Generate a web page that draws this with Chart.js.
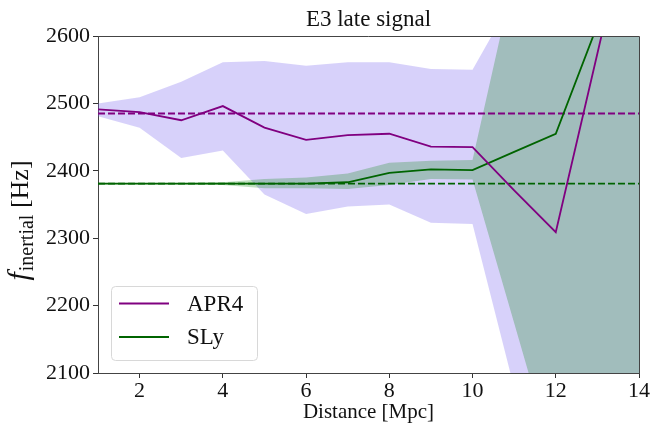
<!DOCTYPE html>
<html>
<head>
<meta charset="utf-8">
<script src="https://cdn.jsdelivr.net/npm/chart.js@4/dist/chart.umd.min.js"></script>
<style>
  html, body { margin: 0; padding: 0; background: #fff; }
  canvas { display: block; }
</style>
</head>
<body>
<canvas id="chart" width="650" height="427"></canvas>
<script>
// === DATA ===
const distance = [1, 2, 3, 4, 5, 6, 7, 8, 9, 10, 11, 12, 13, 14];

const apr4 = [2491, 2487, 2475, 2496, 2464, 2446, 2453, 2455, 2436, 2435, 2371, 2309, 2574, 2840];
const apr4Upper = [2500, 2509, 2532, 2561, 2563, 2556, 2561, 2561, 2551, 2550, 2659, 3000, 3000, 3000];
const apr4Lower = [2481, 2464, 2419, 2430, 2365, 2336, 2347, 2350, 2323, 2321, 2078, 1835, 1600, 1600];
const apr4Ref = 2485;

const sly = [2381, 2381, 2381, 2381, 2381, 2381, 2383, 2397, 2402, 2401, 2428, 2455, 2616, 2780];
const slyUpper = [2382, 2382, 2382, 2383, 2388, 2390, 2396, 2412, 2415, 2416, 2691, 3000, 3000, 3000];
const slyLower = [2380, 2380, 2380, 2379, 2374, 2374, 2373, 2379, 2388, 2387, 2174, 1961, 1600, 1600];
const slyRef = 2381;

const xTicks = [2, 4, 6, 8, 10, 12, 14];
const yTicks = [2100, 2200, 2300, 2400, 2500, 2600];

const seriesNames = ['APR4', 'SLy'];
const titleText = 'E3 late signal';
const xTitle = 'Distance [Mpc]';

// === HELPERS ===
const FONT = "'Liberation Serif', 'DejaVu Serif', serif";
const PURPLE = '#800080';
const GREEN = '#006400';

Chart.defaults.font.family = FONT;

const toPoints = (ys) => distance.map((x, i) => ({ x: x, y: ys[i] }));
const flatLine = (v) => [{ x: distance[0], y: v }, { x: distance[distance.length - 1], y: v }];

const band = (ys, color, fillTo, order) => ({
    data: toPoints(ys),
    borderColor: 'transparent',
    borderWidth: 0,
    backgroundColor: color,
    pointRadius: 0,
    fill: fillTo,
    order: order
});

const line = (pts, color, dash, order) => ({
    data: pts,
    borderColor: color,
    borderWidth: 1.8,
    borderDash: dash,
    pointRadius: 0,
    fill: false,
    tension: 0,
    order: order
});

// Plugin vẽ tiêu đề, nhãn trục, khung và chú thích
const decorations = {
    id: 'decorations',
    afterDraw(chart) {
        const ctx = chart.ctx;
        const a = chart.chartArea;
        ctx.save();

        // right + top spines
        ctx.strokeStyle = '#444';
        ctx.lineWidth = 1;
        ctx.beginPath();
        ctx.moveTo(a.left, a.top + 0.5);
        ctx.lineTo(a.right + 0.5, a.top + 0.5);
        ctx.lineTo(a.right + 0.5, a.bottom);
        ctx.stroke();

        // title
        ctx.fillStyle = '#111';
        ctx.textAlign = 'center';
        ctx.textBaseline = 'alphabetic';
        ctx.font = `23px ${FONT}`;
        ctx.fillText(titleText, (a.left + a.right) / 2, 26);

        // x axis title
        ctx.font = `21px ${FONT}`;
        ctx.fillText(xTitle, (a.left + a.right) / 2, 418);

        // y axis title: f_inertial [Hz]
        ctx.save();
        ctx.translate(28, 221);
        ctx.rotate(-Math.PI / 2);
        ctx.textAlign = 'left';
        const fFont = `italic 30px ${FONT}`;
        const subFont = `20px ${FONT}`;
        const hzFont = `26px ${FONT}`;
        ctx.font = fFont; const wF = ctx.measureText('f').width;
        ctx.font = subFont; const wS = ctx.measureText('inertial').width;
        ctx.font = hzFont; const wH = ctx.measureText(' [Hz]').width;
        let x0 = -(wF + wS + wH) / 2;
        ctx.font = fFont; ctx.fillText('f', x0, 0); x0 += wF + 1;
        ctx.font = subFont; ctx.fillText('inertial', x0, 5); x0 += wS;
        ctx.font = hzFont; ctx.fillText(' [Hz]', x0, 0);
        ctx.restore();

        // legend
        const lx = 111, ly = 286, lw = 146, lh = 74, r = 4;
        ctx.fillStyle = 'rgba(255,255,255,0.85)';
        ctx.strokeStyle = '#d8d8d8';
        ctx.lineWidth = 1;
        ctx.beginPath();
        ctx.roundRect(lx + 0.5, ly + 0.5, lw, lh, r);
        ctx.fill();
        ctx.stroke();

        const colors = [PURPLE, GREEN];
        seriesNames.forEach((name, i) => {
            const y = 303.5 + i * 33.5;
            ctx.strokeStyle = colors[i];
            ctx.lineWidth = 1.8;
            ctx.beginPath();
            ctx.moveTo(119, y);
            ctx.lineTo(169, y);
            ctx.stroke();
            ctx.fillStyle = '#111';
            ctx.textAlign = 'left';
            ctx.textBaseline = 'middle';
            ctx.font = `23px ${FONT}`;
            ctx.fillText(name, 187, y + 1);
        });

        ctx.restore();
    }
};

const tickFont = { family: FONT, size: 22 };

new Chart(document.getElementById('chart'), {
    type: 'line',
    data: {
        datasets: [
            band(apr4Upper, 'rgba(123,104,238,0.3)', '+1', 10),
            band(apr4Lower, 'transparent', false, 10),
            band(slyUpper, 'rgba(0,128,0,0.25)', '+1', 9),
            band(slyLower, 'transparent', false, 9),
            line(flatLine(apr4Ref), PURPLE, [7, 3], 3),
            line(flatLine(slyRef), GREEN, [7, 3], 3),
            line(toPoints(apr4), PURPLE, [], 1),
            line(toPoints(sly), GREEN, [], 2)
        ]
    },
    options: {
        responsive: false,
        animation: false,
        devicePixelRatio: 1,
        layout: { padding: { top: 36, right: 10, left: 0, bottom: 0 } },
        plugins: {
            legend: { display: false },
            tooltip: { enabled: false },
            title: { display: false }
        },
        scales: {
            x: {
                type: 'linear',
                min: 1,
                max: 14,
                afterBuildTicks: (scale) => { scale.ticks = xTicks.map(v => ({ value: v })); },
                afterFit: (scale) => { scale.height = 54; },
                grid: { drawOnChartArea: false, drawTicks: true, tickLength: 5, color: '#333' },
                border: { display: true, color: '#444', width: 1 },
                ticks: {
                    maxRotation: 0,
                    autoSkip: false,
                    padding: 0,
                    color: '#111',
                    font: tickFont,
                    callback: (v) => String(v)
                }
            },
            y: {
                type: 'linear',
                min: 2100,
                max: 2600,
                afterBuildTicks: (scale) => { scale.ticks = yTicks.map(v => ({ value: v })); },
                afterFit: (scale) => { scale.width = 98; },
                grid: { drawOnChartArea: false, drawTicks: true, tickLength: 5, color: '#333' },
                border: { display: true, color: '#444', width: 1 },
                ticks: {
                    padding: 3,
                    color: '#111',
                    font: tickFont,
                    callback: (v) => String(v)
                }
            }
        }
    },
    plugins: [decorations]
});
</script>
</body>
</html>
